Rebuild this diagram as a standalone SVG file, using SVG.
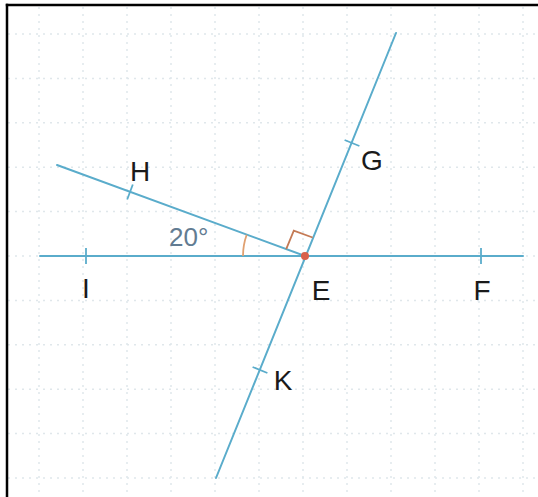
<svg xmlns="http://www.w3.org/2000/svg" width="538" height="497" viewBox="0 0 538 497">
<style>
.grid line{stroke:#e0e7eb;stroke-width:1.5;stroke-dasharray:2 5}
.ln{stroke:#5aaccb;stroke-width:2;fill:none;stroke-linecap:round}
.tick{stroke:#5aaccb;stroke-width:1.8}
.lbl{font-family:"Liberation Sans",Arial,sans-serif;font-size:28px;fill:#1a1a1a;text-anchor:middle}
.ang{font-family:"Liberation Sans",Arial,sans-serif;font-size:26px;fill:#627c92}
</style>
<rect x="0" y="0" width="538" height="497" fill="#ffffff"/>
<g class="grid">
<line x1="39" y1="7" x2="39" y2="497"/><line x1="83" y1="7" x2="83" y2="497"/><line x1="127" y1="7" x2="127" y2="497"/><line x1="171" y1="7" x2="171" y2="497"/><line x1="215" y1="7" x2="215" y2="497"/><line x1="259" y1="7" x2="259" y2="497"/><line x1="303" y1="7" x2="303" y2="497"/><line x1="347" y1="7" x2="347" y2="497"/><line x1="391" y1="7" x2="391" y2="497"/><line x1="435" y1="7" x2="435" y2="497"/><line x1="479" y1="7" x2="479" y2="497"/><line x1="523" y1="7" x2="523" y2="497"/>
<line x1="8" y1="34" x2="538" y2="34"/><line x1="8" y1="78.4" x2="538" y2="78.4"/><line x1="8" y1="122.8" x2="538" y2="122.8"/><line x1="8" y1="167.2" x2="538" y2="167.2"/><line x1="8" y1="211.6" x2="538" y2="211.6"/><line x1="8" y1="256" x2="538" y2="256"/><line x1="8" y1="300.4" x2="538" y2="300.4"/><line x1="8" y1="344.8" x2="538" y2="344.8"/><line x1="8" y1="389.2" x2="538" y2="389.2"/><line x1="8" y1="433.6" x2="538" y2="433.6"/><line x1="8" y1="478" x2="538" y2="478"/>
</g>
<g id="border" stroke="#000" stroke-width="2.5" fill="none">
<line x1="5.8" y1="5" x2="538" y2="5"/>
<line x1="7" y1="3.8" x2="7" y2="497"/>
</g>
<g id="connectors">
<line class="ln" x1="40" y1="256" x2="523" y2="256"/>
<line class="ln" x1="57" y1="165" x2="305" y2="256"/>
<line class="ln" x1="396" y1="33" x2="216" y2="478"/>
<path d="M243,256 A62,62 0 0 1 246.7,234.8" fill="none" stroke="#e0a070" stroke-width="1.8"/>
<path d="M286.2,249.1 L293.8,230.6 L312.6,237.5" fill="none" stroke="#c47a55" stroke-width="1.8"/>
</g>
<g id="node-I"><line class="tick" x1="86" y1="248" x2="86" y2="264"/><text class="lbl" x="86" y="298">I</text></g>
<g id="node-F"><line class="tick" x1="481" y1="248" x2="481" y2="264"/><text class="lbl" x="482" y="300">F</text></g>
<g id="node-H"><line class="tick" x1="127.2" y1="199.5" x2="132.8" y2="184.5"/><text class="lbl" x="140" y="181">H</text></g>
<g id="node-G"><line class="tick" x1="344.6" y1="140" x2="359.4" y2="146"/><text class="lbl" x="372" y="170">G</text></g>
<g id="node-K"><line class="tick" x1="252.6" y1="367" x2="267.4" y2="373"/><text class="lbl" x="283" y="390">K</text></g>
<g id="node-E"><circle cx="305" cy="256" r="4" fill="#d9604a"/><text class="lbl" x="321" y="300">E</text></g>
<g id="angle-label"><text class="ang" x="169" y="246">20°</text></g>
</svg>
